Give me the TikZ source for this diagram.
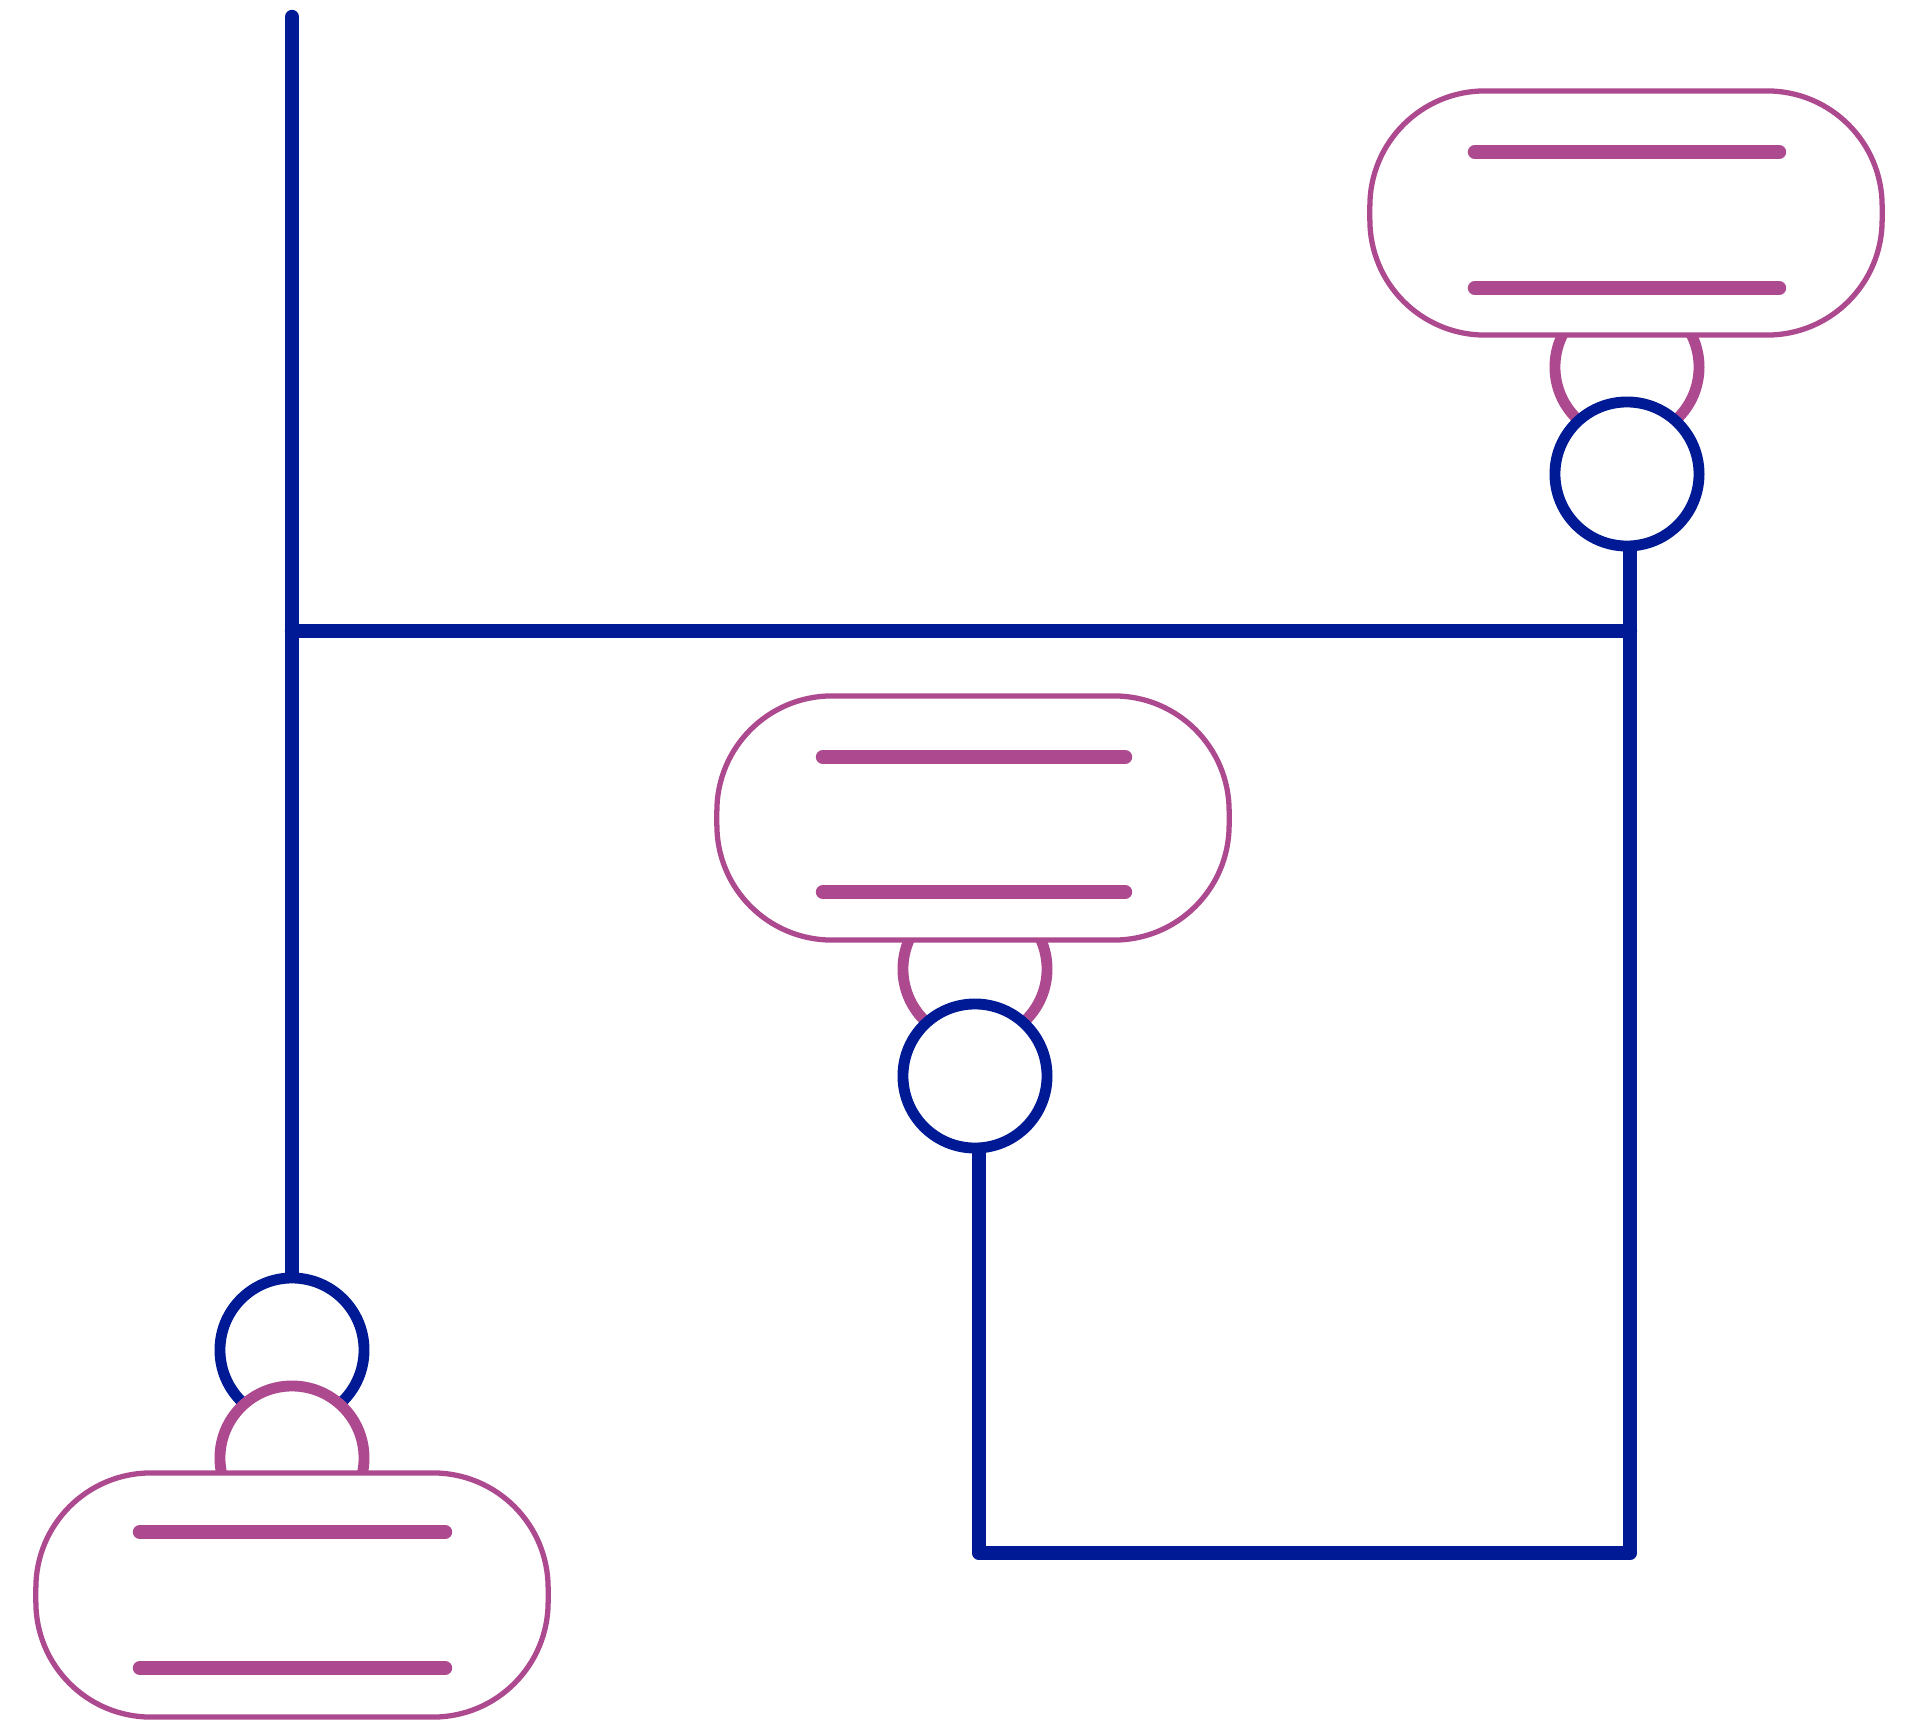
\documentclass[tikz,border=0pt]{standalone}
\definecolor{cblue}{RGB}{0,26,150}
\definecolor{cmag}{RGB}{173,73,142}
\begin{document}
\begin{tikzpicture}[x=0.01cm,y=-0.01cm,
 wire/.style={draw=cblue, line width=4.1pt, line cap=round, line join=round},
 bcirc/.style={circle, draw=cblue, line width=3.1pt, fill=white, minimum size=1.44cm, inner sep=0pt},
 mcirc/.style={circle, draw=cmag, line width=3.1pt, fill=white, minimum size=1.44cm, inner sep=0pt},
 pill/.style={rectangle, draw=cmag, line width=1.5pt, fill=white, rounded corners=1.15cm, minimum width=5.12cm, minimum height=2.44cm, inner sep=0pt},
 bar/.style={draw=cmag, line width=4.1pt, line cap=round}]
\useasboundingbox (0,0) rectangle (1911,1721);

% wires
\coordinate (top) at (292,17);
\coordinate (jL) at (292,631);
\coordinate (jR) at (1630,631);
\coordinate (cR) at (1630,1553);
\coordinate (cL) at (979,1553);

% top-right group
\node[mcirc] (m1) at (1627,367) {};
\node[bcirc] (b1) at (1627,474) {};
\node[pill] (p1) at (1626,213) {};
\draw[bar] (1475,152) -- (1779,152);
\draw[bar] (1475,288) -- (1779,288);

% middle group
\node[mcirc] (m2) at (975,969) {};
\node[bcirc] (b2) at (975,1076) {};
\node[pill] (p2) at (973,818) {};
\draw[bar] (823,757) -- (1125,757);
\draw[bar] (823,892) -- (1125,892);

% bottom-left group
\node[bcirc] (b3) at (292,1350) {};
\node[mcirc] (m3) at (292,1458) {};
\node[pill] (p3) at (292,1595) {};
\draw[bar] (140,1532) -- (445,1532);
\draw[bar] (140,1668) -- (445,1668);

% connectors
\draw[wire] (top) -- (b3.north);
\draw[wire] (jL) -- (jR);
\draw[wire] (b1.south -| jR) -- (cR) -- (cL) -- (b2.south -| cL);
\end{tikzpicture}
\end{document}
